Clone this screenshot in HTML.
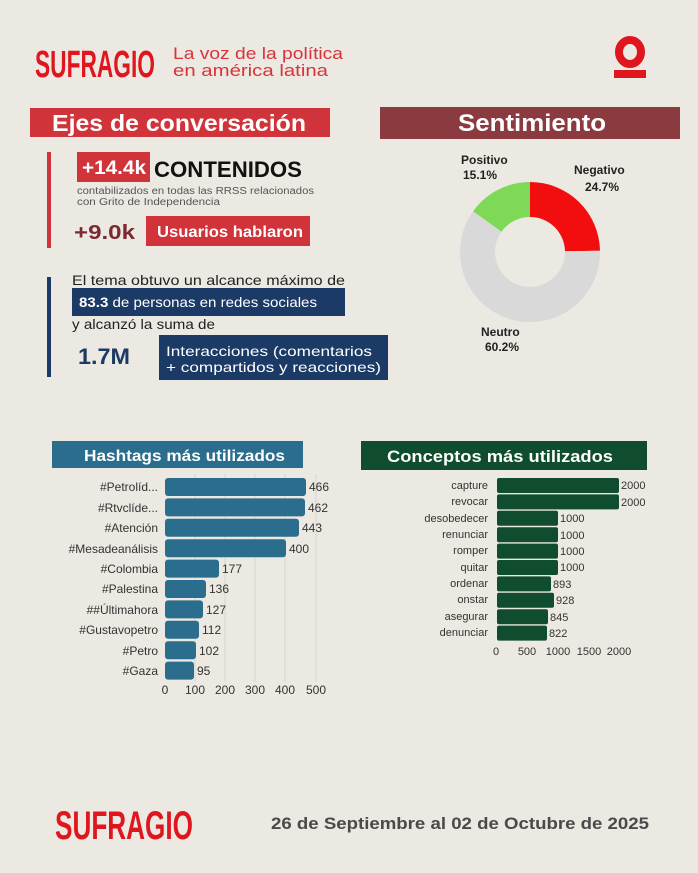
<!DOCTYPE html>
<html><head><meta charset="utf-8"><style>
body{margin:0;background:#ece8e2;}
svg{display:block}
text{font-family:"Liberation Sans",sans-serif}
</style></head><body>
<svg width="698" height="873" viewBox="0 0 698 873" xmlns="http://www.w3.org/2000/svg">
<rect width="698" height="873" fill="#ece8e2"/>
<!-- header logo -->
<text x="35" y="77" font-size="38" font-weight="bold" fill="#e0161e" textLength="120" lengthAdjust="spacingAndGlyphs">SUFRAGIO</text>
<text x="173" y="59" font-size="17" fill="#d8333a" textLength="170" lengthAdjust="spacingAndGlyphs">La voz de la política</text>
<text x="173" y="76" font-size="17" fill="#d8333a" textLength="155" lengthAdjust="spacingAndGlyphs">en américa latina</text>
<ellipse cx="630" cy="52" rx="11" ry="12" fill="none" stroke="#e0161e" stroke-width="8"/>
<rect x="614" y="70" width="32" height="8" fill="#e0161e"/>

<!-- Ejes header -->
<rect x="30" y="108" width="300" height="29" fill="#d0343a"/>
<text x="52" y="131" font-size="23" font-weight="bold" fill="#fff" textLength="254" lengthAdjust="spacingAndGlyphs">Ejes de conversación</text>
<rect x="380" y="107" width="300" height="32" fill="#8b3a40"/>
<text x="458" y="131" font-size="24" font-weight="bold" fill="#fff" textLength="148" lengthAdjust="spacingAndGlyphs">Sentimiento</text>

<!-- red block -->
<rect x="47" y="152" width="4" height="96" fill="#d0343a"/>
<rect x="77" y="152" width="73" height="30" fill="#d0343a"/>
<text x="82" y="174" font-size="19" font-weight="bold" fill="#fff" textLength="64" lengthAdjust="spacingAndGlyphs">+14.4k</text>
<text x="154" y="177" font-size="22" font-weight="bold" fill="#111" textLength="148" lengthAdjust="spacingAndGlyphs">CONTENIDOS</text>
<text x="77" y="194" font-size="10" fill="#555" textLength="237" lengthAdjust="spacingAndGlyphs">contabilizados en todas las RRSS relacionados</text>
<text x="77" y="205" font-size="10" fill="#555" textLength="143" lengthAdjust="spacingAndGlyphs">con Grito de Independencia</text>
<text x="74" y="239" font-size="20" font-weight="bold" fill="#7a2a30" textLength="61" lengthAdjust="spacingAndGlyphs">+9.0k</text>
<rect x="146" y="216" width="164" height="30" fill="#d0343a"/>
<text x="157" y="237" font-size="16" font-weight="bold" fill="#fff" textLength="146" lengthAdjust="spacingAndGlyphs">Usuarios hablaron</text>

<!-- blue block -->
<rect x="47" y="277" width="4" height="100" fill="#1b3a66"/>
<text x="72" y="285" font-size="14" fill="#222" textLength="273" lengthAdjust="spacingAndGlyphs">El tema obtuvo un alcance máximo de</text>
<rect x="72" y="288" width="273" height="28" fill="#1b3a66"/>
<text x="79" y="307" font-size="14" fill="#fff" textLength="238" lengthAdjust="spacingAndGlyphs"><tspan font-weight="bold">83.3</tspan> de personas en redes sociales</text>
<text x="72" y="329" font-size="14" fill="#222" textLength="143" lengthAdjust="spacingAndGlyphs">y alcanzó la suma de</text>
<text x="78" y="364" font-size="22" font-weight="bold" fill="#1b3a66" textLength="52" lengthAdjust="spacingAndGlyphs">1.7M</text>
<rect x="159" y="335" width="229" height="45" fill="#1b3a66"/>
<text x="166" y="356" font-size="14" fill="#fff" textLength="206" lengthAdjust="spacingAndGlyphs">Interacciones (comentarios</text>
<text x="166" y="372" font-size="14" fill="#fff" textLength="215" lengthAdjust="spacingAndGlyphs">+ compartidos y reacciones)</text>

<!-- donut -->
<path d="M530,182 A70,70 0 0 1 600,250.7 L565,251.3 A35,35 0 0 0 530,217 Z" fill="#f20e0e"/>
<path d="M600,250.7 A70,70 0 1 1 473.1,211.3 L501.5,231.6 A35,35 0 1 0 565,251.3 Z" fill="#d9d9d9"/>
<path d="M473.1,211.3 A70,70 0 0 1 530,182 L530,217 A35,35 0 0 0 501.5,231.6 Z" fill="#7ed957"/>
<g font-size="12" font-weight="bold" fill="#222">
<text x="461" y="164">Positivo</text><text x="463" y="179">15.1%</text>
<text x="574" y="174">Negativo</text><text x="585" y="191">24.7%</text>
<text x="481" y="336">Neutro</text><text x="485" y="351">60.2%</text>
</g>

<!-- hashtags -->
<rect x="52" y="441" width="251" height="27" fill="#2a6d8c"/>
<text x="84" y="461" font-size="16" font-weight="bold" fill="#fff" textLength="201" lengthAdjust="spacingAndGlyphs">Hashtags más utilizados</text>
<g stroke="#d8d4ce" stroke-width="1">
<line x1="195" y1="474" x2="195" y2="682"/><line x1="225" y1="474" x2="225" y2="682"/><line x1="255" y1="474" x2="255" y2="682"/><line x1="285" y1="474" x2="285" y2="682"/><line x1="316" y1="474" x2="316" y2="682"/>
</g>
<g fill="#2a6d8c">
<rect x="165" y="478" width="141" height="18" rx="3"/>
<rect x="165" y="498.4" width="140" height="18" rx="3"/>
<rect x="165" y="518.8" width="134" height="18" rx="3"/>
<rect x="165" y="539.2" width="121" height="18" rx="3"/>
<rect x="165" y="559.6" width="54" height="18" rx="3"/>
<rect x="165" y="580" width="41" height="18" rx="3"/>
<rect x="165" y="600.4" width="38" height="18" rx="3"/>
<rect x="165" y="620.8" width="34" height="18" rx="3"/>
<rect x="165" y="641.2" width="31" height="18" rx="3"/>
<rect x="165" y="661.6" width="29" height="18" rx="3"/>
</g>
<g font-size="12" fill="#333" text-anchor="end">
<text x="158" y="491">#Petrolíd...</text><text x="158" y="512">#Rtvclíde...</text><text x="158" y="532">#Atención</text><text x="158" y="553">#Mesadeanálisis</text><text x="158" y="573">#Colombia</text><text x="158" y="593">#Palestina</text><text x="158" y="614">##Últimahora</text><text x="158" y="634">#Gustavopetro</text><text x="158" y="655">#Petro</text><text x="158" y="675">#Gaza</text>
</g>
<g font-size="12" fill="#333">
<text x="309" y="491">466</text><text x="308" y="512">462</text><text x="302" y="532">443</text><text x="289" y="553">400</text><text x="222" y="573">177</text><text x="209" y="593">136</text><text x="206" y="614">127</text><text x="202" y="634">112</text><text x="199" y="655">102</text><text x="197" y="675">95</text>
</g>
<g font-size="12" fill="#333" text-anchor="middle">
<text x="165" y="694">0</text><text x="195" y="694">100</text><text x="225" y="694">200</text><text x="255" y="694">300</text><text x="285" y="694">400</text><text x="316" y="694">500</text>
</g>

<!-- conceptos -->
<rect x="361" y="441" width="286" height="29" fill="#0f4d2e"/>
<text x="387" y="462" font-size="17" font-weight="bold" fill="#fff" textLength="226" lengthAdjust="spacingAndGlyphs">Conceptos más utilizados</text>
<g fill="#0f4d2e">
<rect x="497" y="478" width="122" height="15" rx="2"/>
<rect x="497" y="494.4" width="122" height="15" rx="2"/>
<rect x="497" y="510.8" width="61" height="15" rx="2"/>
<rect x="497" y="527.2" width="61" height="15" rx="2"/>
<rect x="497" y="543.6" width="61" height="15" rx="2"/>
<rect x="497" y="560" width="61" height="15" rx="2"/>
<rect x="497" y="576.4" width="54" height="15" rx="2"/>
<rect x="497" y="592.8" width="57" height="15" rx="2"/>
<rect x="497" y="609.2" width="51" height="15" rx="2"/>
<rect x="497" y="625.6" width="50" height="15" rx="2"/>
</g>
<g font-size="11" fill="#333" text-anchor="end">
<text x="488" y="489">capture</text><text x="488" y="505">revocar</text><text x="488" y="522">desobedecer</text><text x="488" y="538">renunciar</text><text x="488" y="554">romper</text><text x="488" y="571">quitar</text><text x="488" y="587">ordenar</text><text x="488" y="603">onstar</text><text x="488" y="620">asegurar</text><text x="488" y="636">denunciar</text>
</g>
<g font-size="11" fill="#333">
<text x="621" y="489">2000</text><text x="621" y="506">2000</text><text x="560" y="522">1000</text><text x="560" y="539">1000</text><text x="560" y="555">1000</text><text x="560" y="571">1000</text><text x="553" y="588">893</text><text x="556" y="604">928</text><text x="550" y="621">845</text><text x="549" y="637">822</text>
</g>
<g font-size="11" fill="#333" text-anchor="middle">
<text x="496" y="655">0</text><text x="527" y="655">500</text><text x="558" y="655">1000</text><text x="589" y="655">1500</text><text x="619" y="655">2000</text>
</g>

<!-- footer -->
<text x="55" y="839" font-size="40" font-weight="bold" fill="#e0161e" textLength="138" lengthAdjust="spacingAndGlyphs">SUFRAGIO</text>
<text x="271" y="829" font-size="17" font-weight="bold" fill="#4a4a4a" textLength="378" lengthAdjust="spacingAndGlyphs">26 de Septiembre al 02 de Octubre de 2025</text>
</svg>
</body></html>
